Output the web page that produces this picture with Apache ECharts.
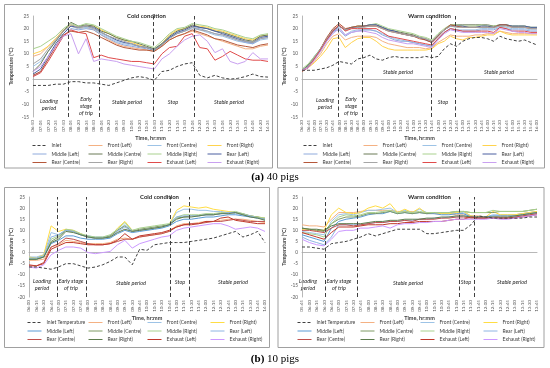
<!DOCTYPE html>
<html><head><meta charset="utf-8">
<script src="https://cdn.jsdelivr.net/npm/echarts@6/dist/echarts.min.js"></script>
<style>html,body{margin:0;padding:0;background:#fff}#c{width:550px;height:368px}</style>
</head><body><div id="c"></div><script>
// ---------- tick labels ----------
const aColdTimes = ['06:50','07:05','07:20','07:35','07:50','08:05','08:20','08:35','08:50','09:05','09:20','09:35','09:50','10:05','10:20','10:35','10:50','11:05','11:20','11:35','11:50','12:05','12:20','12:35','12:50','13:05','13:20','13:35','13:50','14:05','14:20','14:35'];
const aWarmTimes = ['06:30','06:45','07:00','07:15','07:30','07:45','08:00','08:15','08:30','08:45','09:00','09:15','09:30','09:45','10:00','10:15','10:30','10:45','11:00','11:15','11:30','11:45','12:00','12:15','12:30','12:45','13:00','13:15','13:30','13:45','14:00','14:15','14:30','14:45','15:00','15:15','15:30','15:45','16:00'];
const bColdTimes = ['06:00','06:15','06:30','06:45','07:00','07:15','07:30','07:45','08:00','08:15','08:30','08:45','09:00','09:15','09:30','09:45','10:00','10:15','10:30','10:45','11:00','11:15','11:30','11:45','12:00','12:15','12:30','12:45','13:00','13:15','13:30','13:45','14:00'];
const bWarmTimes = ['05:45','06:00','06:15','06:30','06:45','07:00','07:15','07:30','07:45','08:00','08:15','08:30','08:45','09:00','09:15','09:30','09:45','10:00','10:15','10:30','10:45','11:00','11:15','11:30','11:45','12:00','12:15','12:30','12:45','13:00','13:15','13:30','13:45'];
const yTicksA = [-15,-10,-5,0,5,10,15,20,25];
const yTicksB = [-20,-15,-10,-5,0,5,10,15,20,25];

// ---------- series names ----------
const sensorNames = ['Front (Left)','Front (Centre)','Front (Right)','Middle (Left)','Middle (Centre)','Middle (Right)','Rear (Left)','Rear (Centre)','Rear (Right)','Exhaust (Left)','Exhaust (Right)'];

// ---------- (a) 40 pigs, cold ----------
const aColdInlet = [-2.5,-2.5,-2.5,-2,-2,-1,-1,-1.5,-1.5,-2,-2.5,-1.5,-0.5,0.5,1,0.5,-0.5,3,3.5,5,6,6.5,1.5,0.5,1.5,0.5,0,0.3,1,2,1,0.8];
const aColdFrontLeft = [9,10,13,16,19.5,21,20,20.5,19.5,17.5,15.5,14,13,12.5,12,11.5,11,13,15.5,17,18,19,18,17,16,15,14,13,12,12,13,13.5];
const aColdFrontCentre = [5,7,11,15,19,21,20,20.5,20,18,16.5,15,14,13.5,13,12.5,12,14,16.5,18,19,20,19.5,18.5,17.5,17,16,15,14.5,14,15.5,16];
const aColdFrontRight = [10,11,13,16,19,21.5,20.5,21,21,19.5,18,16.5,15.5,14.5,13.5,12.5,11.5,14,17.5,19.5,20,21,21,20.5,19.5,19,18,17,16,15.5,17,17.5];
const aColdMiddleLeft = [1,3,8,13,17,20,19.5,20,19.5,17.5,16,14.5,13.5,13,12.5,12,11.5,14,16.5,18,19,20.5,20,19,18,17.5,16.5,15.5,14.5,14,16,16.5];
const aColdMiddleCentre = [3,6,11,15,19,22.5,21,21.5,21,19,18,16.5,15.5,15,14,13,12,14,17,19,20,21.5,20.5,20,19,18.5,17.5,16.5,15.5,15,17,17.5];
const aColdMiddleRight = [12,13,15,17,20,22,21,22,21.5,20,18.5,17,16,15,14.5,13.5,12.5,15,18,20,20.5,22,21.5,21,20,19.5,18.5,17.5,16.5,16,17.5,18];
const aColdRearLeft = [2,4,9,14,18,21,20.5,21,20.5,18.5,17,15.5,14.5,14,13,12.5,11.5,13.5,16.5,18.5,19.5,21,20.5,20,19,18,17,16,15,14.5,16.5,17];
const aColdRearCentre = [1.5,3,8,13,17.5,19,18.5,19,18,16.5,15,13.5,12.5,12,11.5,11.5,11,13,15.5,17,18,19.5,18.5,17.5,16,15.5,14.5,13.5,13,12.5,13.5,14];
const aColdRearRight = [6,8,12,15.5,19,21.5,20.5,21,20,18.5,17,16,15,14,13,12.5,11.5,13.5,16,18,19,20.5,19.5,19,18,17.5,16.5,15.5,15,14.5,16,16.5];
const aColdExhaustLeft = [1,2.5,7,12,17,19.5,18.5,18,8.5,9.5,8.5,8,7.5,7,7,6.5,6,10,12.5,13,17,18,12.5,12,7.5,9,11,9.5,8,7.5,7.5,7];
const aColdExhaustRight = [3,5,9,13,17,18,10,16,7,8,7.5,7,6,5.5,5,4.5,4,8,10,13,15.5,17,17.5,15,10.5,12,7,6,7,10.5,8,8];
const aColdStages = [4.7,8.8,15.9,21.3];

// ---------- (a) 40 pigs, warm ----------
const aWarmInlet = [3.5,3.5,3.5,4,4.5,5.5,7,6.5,6,8,8.5,9.5,8,7.5,8.5,9,8.5,8.5,8.5,8.5,9,8.5,9,12,14,13,15,16,16.5,16.5,16,15,17,16,15.5,15,15.5,14.5,13.5];
const aWarmFrontLeft = [3.5,4.5,7,10,14,17,18,15.5,16.5,17,17,17,16.5,15,14,13.5,13,12.5,12.5,12.5,12,12.5,14.5,16,17.5,17,17,17,17.5,17.5,18,18,19,18.5,18,18,18,18,18];
const aWarmFrontCentre = [3.5,5,8,11,15,18.5,20.5,17.5,19,19.5,19.5,19.5,19,18,17,16,15.5,15,14.5,14,13.5,13,16,18.5,20,19.5,19.5,19.5,19.5,20,20,20,21,20.5,20,20,20,19.5,19.5];
const aWarmFrontRight = [3.5,4.5,6.5,9,12,16,16.5,12.5,14.5,16,16.5,16.5,15,13,12,11.5,11.5,11.5,11.5,11.5,11.5,12,14,15,17,16,15.5,16.5,16.5,17,17.5,17.5,19,18,17.5,17.5,17.5,17.5,17.5];
const aWarmMiddleLeft = [3.5,5.5,9,12,16,19,19.5,17,18.5,19,19.5,19.5,19,17.5,16.5,15.5,15,15,14.5,14,13.5,13,16,18.5,20,19.5,19,19,19,19.5,19.5,19.5,20.5,20,19.5,19.5,19.5,19,19];
const aWarmMiddleCentre = [3.5,5.5,8.5,12,16,19.5,21,19.5,20.5,21,21,21.5,21.5,20.5,19.5,19,18.5,18,17.5,16.5,16,15,17.5,19.5,21.5,21.5,21.5,21.5,21.5,21.5,21.5,21,21.5,21.5,21,21,21,20.5,20.5];
const aWarmMiddleRight = [4,6,9,12,16,19.5,21,19.5,20.5,21,21,21.5,22,21,20,19.5,19,18.5,18,17,16.5,15.5,18,20,21.5,21.5,21,21,21,21.5,21,21,21.5,21.5,21,21,21,20.5,20.5];
const aWarmRearLeft = [3.5,5,8,11.5,15.5,19,21,19.5,20.5,20.5,21,21.5,21.5,20.5,19.5,19,18,17.5,17,16.5,15.5,14.5,17,19.5,21,21,21,20.5,20.5,21,21,20.5,21.5,21.5,21,21,21,20.5,20.5];
const aWarmRearCentre = [3,4.5,8,12,16.5,20,22,20,20.5,21,21,21,21,20,19,18.5,18,17.5,17,16,15.5,14.5,17,19.5,21.5,21,20.5,20.5,20.5,20.5,20.5,20.5,21.5,21.5,20.5,20.5,20.5,20,20];
const aWarmRearRight = [3.5,5,8.5,12,16,19.5,21,19.5,20,20.5,20.5,21,21,20,19,18.5,18,17.5,17,16.5,16,15,17.5,19.5,21,20.5,20.5,20.5,20.5,20.5,20.5,20.5,21,21,20.5,20.5,20.5,20,20];
const aWarmExhaustLeft = [3.5,4.5,8,11.5,15.5,19,21.5,19,20,20,20,20,20,18.5,17,16.5,16,15.5,15,14.5,14,13.5,16,18.5,20,19.5,19,19,19,19,19,18.5,20.5,20,19,19,19,18.5,18.5];
const aWarmExhaustRight = [3.5,4.5,7.5,11,15,18,20,17.5,18.5,19,19,18.5,18,16.5,15.5,15,14.5,14,14,13.5,13,12.5,15.5,18,19.5,19,18.5,18.5,18.5,18.5,18.5,18,20,19.5,19,18.5,18.5,18,18];
const aWarmStages = [5.9,9.7,20.9,24.75];

// ---------- (b) 10 pigs, cold ----------
const bColdInlet = [-6.5,-6.5,-7,-7.5,-6.5,-5,-5,-6,-7,-6.5,-5.5,-4,-2,-2,-5.5,1.5,1,3.5,4,4.5,4.5,4.5,5,5.5,6,6.5,7.5,8.5,9.5,7,8,9.5,4.5];
const bColdFrontLeft = [-3.5,-3.5,-3,2.5,3.5,5.5,5,4.5,4,4,4,4.5,6,6.5,6,7,7.5,8,8.5,9.5,12,13,13,13.5,14,14,14.5,15,15,15,14.5,14,13.5];
const bColdFrontCentre = [-2,-2,-1,9,8,10,9.5,8,7.5,7,7,7.5,10,12.5,10,10,10.5,11,11.5,12.5,18,19.5,19.5,19,19,18.5,18.5,18,17.5,17,16.5,16,15.5];
const bColdFrontRight = [-2,-2.5,-1,12,9.5,10.5,10,8.5,7,6.5,6.5,7,11,14,10,10,10.5,11,11.5,12.5,19,21,20.5,20,20.5,19.5,19,18.5,18,17,16.5,16,15.5];
const bColdMiddleLeft = [-3,-3,-2,4,5.5,7.5,7.5,6.5,6,6,6,6.5,8.5,10,9,9.5,10,10.5,11,12,14,15,15,15.5,16,16,16.5,17,17,16.5,16,15.5,15];
const bColdMiddleCentre = [-3,-3,-2,5,7,10,9.5,8,7,6.5,6.5,7.5,10,12,9.5,10.5,11,11.5,12,12.5,15.5,16,16.5,16.5,17,17,17.5,18,18,17.5,16.5,16,15];
const bColdMiddleRight = [-2.5,-2.5,-1.5,6,7.5,10.5,10,8.5,7.5,7,7,8,10.5,13.5,10,11,11.5,12,12.5,13,16,17,17,17,17.5,17.5,18,18,18.5,17.5,16.5,16,15.5];
const bColdRearLeft = [-2.5,-2.5,-1.5,7,8,10,9.5,8,7,6.5,6.5,7,9.5,11.5,9.5,10,10.5,11,11.5,12.5,16,16.5,16.5,16.5,17,17,17.5,18,18,17,16.5,15.5,15];
const bColdRearCentre = [-5.5,-6,-4.5,2.5,4,6.5,6,5,4,3.5,3.5,4,5,6,6,7,7.5,8,8.5,9.5,11.5,12.5,13,13,13.5,14,14,14.5,15,14.5,14,14,14];
const bColdRearRight = [-3,-3,-2,4.5,6,9.5,9,8,7,6.5,6.5,7,9,10.5,9.5,10,10.5,11,11.5,12.5,15,16,16,16.5,17,17,17.5,17.5,18,17,16,15.5,14.5];
const bColdExhaustLeft = [-6,-6,-5,1.5,3,4.5,4.5,4,3.5,3.5,3.5,4,5.5,8.5,6,7.5,8,8.5,9,10,11.5,12.5,12.5,13,14,14,15.5,16,14.5,14,13.5,13,13];
const bColdExhaustRight = [-6.5,-7,-5.5,-1,1,2.5,2.5,2,0,-0.5,0,0.5,3.5,5.5,2,4,5,6,7,7.5,10,11,11.5,12,12.5,13,13,12,10.5,11,11.5,11,9.5];
const bColdStages = [3.8,7.7,19.2,21.7];

// ---------- (b) 10 pigs, warm ----------
const bWarmInlet = [2.5,2.5,2,1.5,4,4.5,5,6,7,8.5,7.5,8.5,9.5,10.5,10.5,10.5,10.5,8.5,8.5,9,9.5,10,10,12.5,16.5,16,15.5,15.5,15.5,15.5,15.5,16,16];
const bWarmFrontLeft = [12.5,12,12,11.5,15,18,18,18,18.5,19,19,19,19,18.5,18.5,18.5,18,18,17.5,17.5,17.5,17,17,16.5,16.5,16,16,16.5,16.5,17,17.5,18,18.5];
const bWarmFrontCentre = [9.5,9,8.5,8,14,17,17.5,17,18,19,19,19.5,20,18,19,18,19.5,18,18,17.5,17.5,18,18,16.5,16,16,17,17,17,17,17.5,18,18.5];
const bWarmFrontRight = [10.5,10.5,10,10,17,20,18,17.5,18,20,21,20,22,18,19.5,18,20,17.5,18,17.5,17.5,18,18.5,16.5,16,16,18.5,17,17,17,17.5,18,18.5];
const bWarmMiddleLeft = [8,7,6,5,11,14,15,15.5,16,17,17.5,17.5,18.5,17.5,18,17.5,18,17.5,17.5,17,17,17.5,17.5,16,16,16,16.5,16.5,16.5,16.5,17,17.5,18];
const bWarmMiddleCentre = [11,10.5,10,9.5,13,15,16,16,16.5,17.5,17.5,18,18.5,17.5,18,17.5,18,17.5,18,18,18,18.5,18.5,18,18,18,18,18.5,18.5,18.5,18.5,19,19.5];
const bWarmMiddleRight = [9,8.5,8,7,13,16,17,16.5,17,18,18,18.5,19,18,18.5,18,18.5,18,18,18,18,18.5,18.5,18,18,18,19,18.5,18.5,18.5,18.5,19,19.5];
const bWarmRearLeft = [7,5.5,4.5,3.5,7,12.5,12.5,12.5,12.5,13,13.5,13.5,14,14,14.5,14.5,15,15,15.5,15.5,16,16,16.5,16,15.5,15.5,15.5,15.5,15.5,16,16.5,17,17.5];
const bWarmRearCentre = [10,10,9.5,9,11,12.5,12.5,12,12.5,13,13.5,13.5,14,14,14.5,14,15,15,15,15.5,15.5,16,16,15.5,15.5,15.5,15.5,15.5,15.5,16,16.5,17,17.5];
const bWarmRearRight = [11,10.5,10.5,10,12,13,13,13,13,13.5,14,14,14.5,14.5,15,15,15,15.5,15.5,16,16,16.5,16.5,16,16,16,16,16,16,16.5,17,17.5,18];
const bWarmExhaustLeft = [9,8,7,6,9,11.5,11.5,11.5,12,12.5,12.5,12.5,13,13,13.5,13.5,14,14,14,14,14.5,15,15,16,15.5,15.5,15.5,15.5,15.5,15.5,16,16.5,17];
const bWarmExhaustRight = [6,4.5,3.5,3,6,9.5,10,10,11,11,11.5,12,11,12.5,13,13,13.5,13.5,14,14,14.5,15,15,15,15,15,15.5,15,15,15.5,16,16.5,17];
const bWarmStages = [3.2,7.5,21.4,23.4];

// ---------- styles ----------
const FONT = 'Lato';
const colorsA = ['#404040','#F4B183','#9DC3E6','#FFD34D','#8FAADC','#6B7B57','#A9D18E','#4B5FA0','#B5573A','#A6A6A6','#E04B4B','#C9A0F0'];
const colorsB = ['#404040','#F4B183','#9DC3E6','#FFDD44','#5B9BD5','#7F9A65','#A9D18E','#8EB4E3','#C0504D','#5E7D4E','#C0392B','#CC99FF'];

const panels = [
  {title:'Cold condition', titleX:127, inlet:'Inlet', times:aColdTimes, yTicks:yTicksA, stages:aColdStages, colors:colorsA,
   values:[aColdInlet,aColdFrontLeft,aColdFrontCentre,aColdFrontRight,aColdMiddleLeft,aColdMiddleCentre,aColdMiddleRight,aColdRearLeft,aColdRearCentre,aColdRearRight,aColdExhaustLeft,aColdExhaustRight],
   grid:{left:33,top:16,width:235,height:101}, yNameGap:19, xNameGap:16.5, legendX:[32,88,147,207], legendTop:142.5},
  {title:'Warm condition', titleX:408, inlet:'Inlet', times:aWarmTimes, yTicks:yTicksA, stages:aWarmStages, colors:colorsA,
   values:[aWarmInlet,aWarmFrontLeft,aWarmFrontCentre,aWarmFrontRight,aWarmMiddleLeft,aWarmMiddleCentre,aWarmMiddleRight,aWarmRearLeft,aWarmRearCentre,aWarmRearRight,aWarmExhaustLeft,aWarmExhaustRight],
   grid:{left:302,top:16,width:235,height:101}, yNameGap:14, xNameGap:16.5, legendX:[303,363,422,482], legendTop:142.5},
  {title:'Cold condition', titleX:140, inlet:'Inlet Temperature', times:bColdTimes, yTicks:yTicksB, stages:bColdStages, colors:colorsB,
   values:[bColdInlet,bColdFrontLeft,bColdFrontCentre,bColdFrontRight,bColdMiddleLeft,bColdMiddleCentre,bColdMiddleRight,bColdRearLeft,bColdRearCentre,bColdRearRight,bColdExhaustLeft,bColdExhaustRight],
   grid:{left:29,top:197,width:236,height:100}, yNameGap:12, xNameGap:14, legendX:[27,88,147,210], legendTop:319.5},
  {title:'Warm condition', titleX:408, inlet:'Inlet Temperature', times:bWarmTimes, yTicks:yTicksB, stages:bWarmStages, colors:colorsB,
   values:[bWarmInlet,bWarmFrontLeft,bWarmFrontCentre,bWarmFrontRight,bWarmMiddleLeft,bWarmMiddleCentre,bWarmMiddleRight,bWarmRearLeft,bWarmRearCentre,bWarmRearRight,bWarmExhaustLeft,bWarmExhaustRight],
   grid:{left:302,top:197,width:235,height:100}, yNameGap:12, xNameGap:14, legendX:[297,360,420,483], legendTop:319.5}
];

const legendCols = [[0,4,8],[1,5,9],[2,6,10],[3,7,11]];

const option = {animation:false, backgroundColor:'#fff', textStyle:{fontFamily:FONT},
  grid:[], xAxis:[], yAxis:[], series:[], legend:[], graphic:[]};

panels.forEach((p, pi) => {
  const names = [p.inlet].concat(sensorNames);
  option.grid.push(Object.assign({containLabel:false}, p.grid));
  option.xAxis.push({type:'value', gridIndex:pi, min:0, max:p.times.length-1, interval:1,
    axisLine:{lineStyle:{color:'#a6a6a6', width:0.8}}, axisTick:{show:false}, splitLine:{show:false},
    axisLabel:{rotate:90, fontSize:4.6, color:'#595959', margin:3, fontFamily:FONT, formatter:v=>p.times[v]||''},
    name:'Time, hr:mm', nameLocation:'middle', nameGap:p.xNameGap,
    nameTextStyle:{fontSize:5.5, fontWeight:'bold', color:'#404040', fontFamily:FONT}});
  option.yAxis.push({type:'value', gridIndex:pi, min:p.yTicks[0], max:p.yTicks[p.yTicks.length-1], interval:5,
    axisLine:{show:true, lineStyle:{color:'#a6a6a6', width:0.8}}, axisTick:{show:false}, splitLine:{show:false},
    axisLabel:{fontSize:4.8, color:'#595959', margin:4, fontFamily:FONT},
    name:'Temperature (°C)', nameLocation:'middle', nameGap:p.yNameGap,
    nameTextStyle:{fontSize:5, fontWeight:'bold', color:'#404040', fontFamily:FONT}});
  names.forEach((nm, si) => {
    const s = {type:'line', name:nm, xAxisIndex:pi, yAxisIndex:pi, symbol:'none', silent:true,
      data:p.values[si].map((y,i)=>[i,y]),
      lineStyle:{width:1, color:p.colors[si], type: si===0 ? [3,2] : 'solid'},
      itemStyle:{color:p.colors[si]}, emphasis:{disabled:true}, z: si===0 ? 3 : 2};
    if (si===0) {
      s.markLine = {silent:true, symbol:['none','none'], label:{show:false},
        lineStyle:{color:'#404040', type:[4,2.5], width:1}, emphasis:{disabled:true},
        data:p.stages.map(v=>({xAxis:v}))};
    }
    option.series.push(s);
  });
  legendCols.forEach((col, ci) => {
    option.legend.push({orient:'vertical', left:p.legendX[ci], top:p.legendTop, padding:0,
      itemGap:2.5, itemWidth:14, itemHeight:6, selectedMode:false,
      textStyle:{fontSize:5, lineHeight:6, color:'#404040', fontFamily:FONT},
      data:col.map(k=>({name:names[k],
        itemStyle:{color:'rgba(0,0,0,0)', opacity:0, borderWidth:0},
        lineStyle:{color:p.colors[k], width:1, type:k===0?[3,2]:'solid'}}))});
  });
  option.graphic.push({type:'text', left:p.titleX, top:p.grid.top-3, style:{text:p.title, font:'bold 6px '+FONT, fill:'#262626', textAlign:'center'}});
});

// frames
const frames = [[4.5,4.5,268,163.5],[277.5,4.5,267,163.5],[4.5,187.5,265,160],[278,187.5,266,160]];
frames.forEach(f=>option.graphic.push({type:'rect', shape:{x:f[0],y:f[1],width:f[2],height:f[3]}, style:{fill:'none', stroke:'#a0a0a0', lineWidth:1}, silent:true, z:-1}));

// period labels
const periodLabels = [
  ['Loading\nperiod',49,105],['Early\nstage\nof trip',86,106],['Stable period',127,102],['Stop',173,102],['Stable period',229,102],
  ['Loading\nperiod',325,104],['Early\nstage\nof trip',351,106],['Stable period',398,72],['Stop',443,102],['Stable period',499,72],
  ['Loading\nperiod',42,285],['Early stage\nof trip',71,285],['Stable period',131,283],['Stop',180,282],['Stable period',233,282],
  ['Loading\nperiod',308,285],['Early stage\nof trip',339,285],['Stable period',408,283],['Stop',466,282],['Stable period',512,282]
];
periodLabels.forEach(l=>option.graphic.push({type:'text', x:l[1], y:l[2],
  style:{text:l[0], font:'italic 5.5px '+FONT, fill:'#262626', textAlign:'center', textVerticalAlign:'middle', lineHeight:7}}));

// captions
option.graphic.push({type:'text', x:275, y:177, style:{text:'{b|(a)} 40 pigs', textAlign:'center', textVerticalAlign:'middle',
  font:'11px "Liberation Serif"', fill:'#000', rich:{b:{font:'bold 11px "Liberation Serif"', fill:'#000'}}}});
option.graphic.push({type:'text', x:275, y:359, style:{text:'{b|(b)} 10 pigs', textAlign:'center', textVerticalAlign:'middle',
  font:'11px "Liberation Serif"', fill:'#000', rich:{b:{font:'bold 11px "Liberation Serif"', fill:'#000'}}}});

const chart = echarts.init(document.getElementById('c'), null, {renderer:'canvas'});
chart.setOption(option);
</script></body></html>
